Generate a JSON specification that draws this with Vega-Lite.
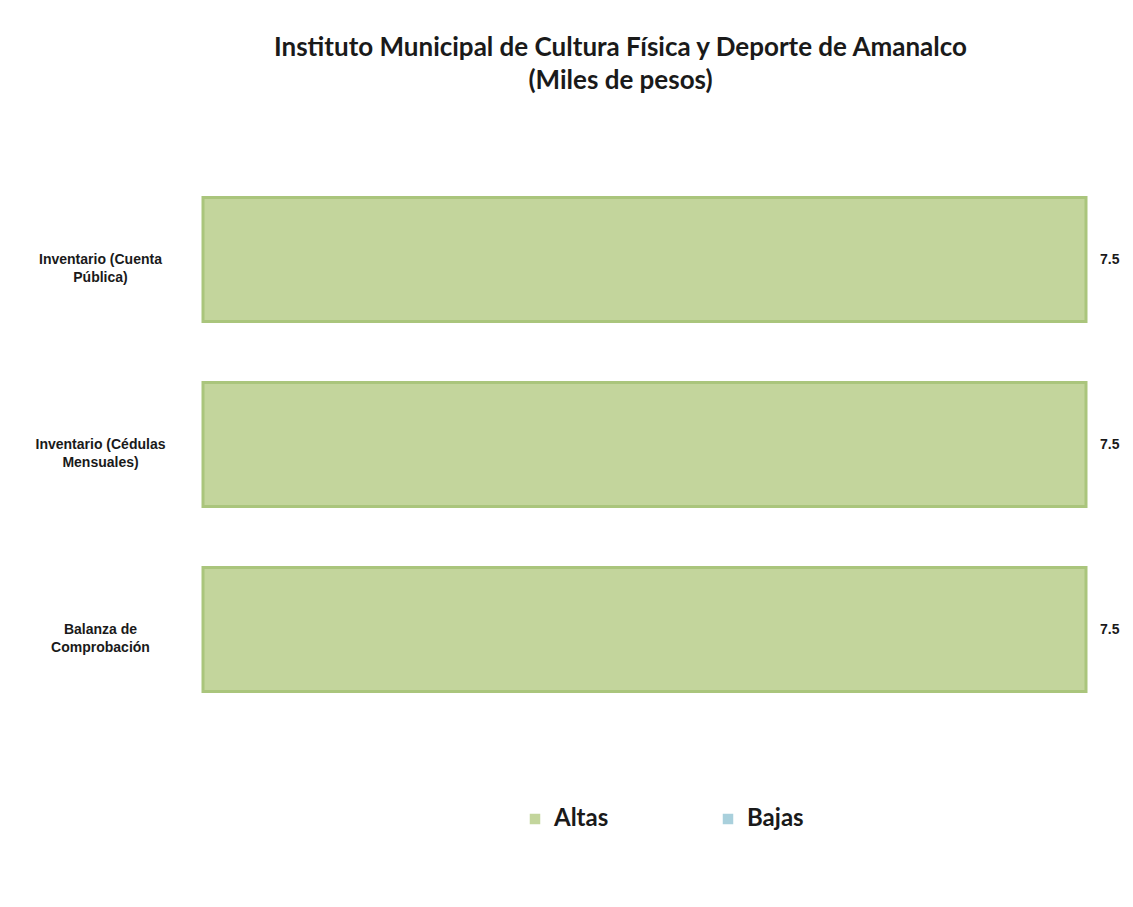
{
  "$schema": "https://vega.github.io/schema/vega-lite/v6.json",
  "autosize": "none",
  "width": 883,
  "height": 555,
  "padding": {"left": 203, "top": 167, "right": 47, "bottom": 185},
  "background": "#ffffff",
  "config": {"view": {"stroke": null}},
  "title": {
    "text": ["Instituto Municipal de Cultura Física y Deporte de Amanalco", "(Miles de pesos)"],
    "font": "Lato",
    "fontSize": 26,
    "fontWeight": "bold",
    "color": "#1a1a1a",
    "anchor": "middle",
    "frame": "group",
    "dx": -24,
    "offset": 73,
    "lineHeight": 33
  },
  "data": {
    "values": [
      {"cuenta": "Inventario (Cuenta|Pública)", "serie": "Altas", "valor": 7.5},
      {"cuenta": "Inventario (Cédulas|Mensuales)", "serie": "Altas", "valor": 7.5},
      {"cuenta": "Balanza de|Comprobación", "serie": "Altas", "valor": 7.5}
    ]
  },
  "encoding": {
    "y": {
      "field": "cuenta",
      "type": "nominal",
      "sort": null,
      "scale": {"paddingInner": 0.33, "paddingOuter": 0.165},
      "axis": {
        "title": null,
        "domain": false,
        "ticks": false,
        "tickSize": 0,
        "labelPadding": 103,
        "labelAlign": "center",
        "labelBaseline": "middle",
        "labelFont": "Liberation Sans",
        "labelFontSize": 14,
        "labelFontWeight": "bold",
        "labelColor": "#1a1a1a",
        "labelLineHeight": 18,
        "labelExpr": "split(datum.label, '|')"
      }
    },
    "x": {
      "field": "valor",
      "type": "quantitative",
      "scale": {"domain": [0, 7.5], "nice": false},
      "axis": null
    }
  },
  "layer": [
    {
      "mark": {"type": "bar", "stroke": "#aac57c", "strokeWidth": 3},
      "encoding": {
        "color": {
          "field": "serie",
          "type": "nominal",
          "scale": {"domain": ["Altas", "Bajas"], "range": ["#c3d59c", "#a9d0dc"]},
          "legend": {
            "title": null,
            "orient": "none",
            "direction": "horizontal",
            "legendX": 320,
            "legendY": 640,
            "symbolType": "square",
            "symbolSize": 110,
            "symbolStrokeWidth": 0,
            "labelFont": "Lato",
            "labelFontSize": 24,
            "labelFontWeight": "bold",
            "labelColor": "#1a1a1a",
            "columnPadding": 107,
            "labelOffset": 7
          }
        }
      }
    },
    {
      "mark": {"type": "text", "align": "left", "dx": 14, "font": "Liberation Sans", "fontSize": 14, "fontWeight": "bold", "color": "#1a1a1a"},
      "encoding": {"text": {"field": "valor", "type": "quantitative", "format": ".1f"}}
    }
  ]
}
